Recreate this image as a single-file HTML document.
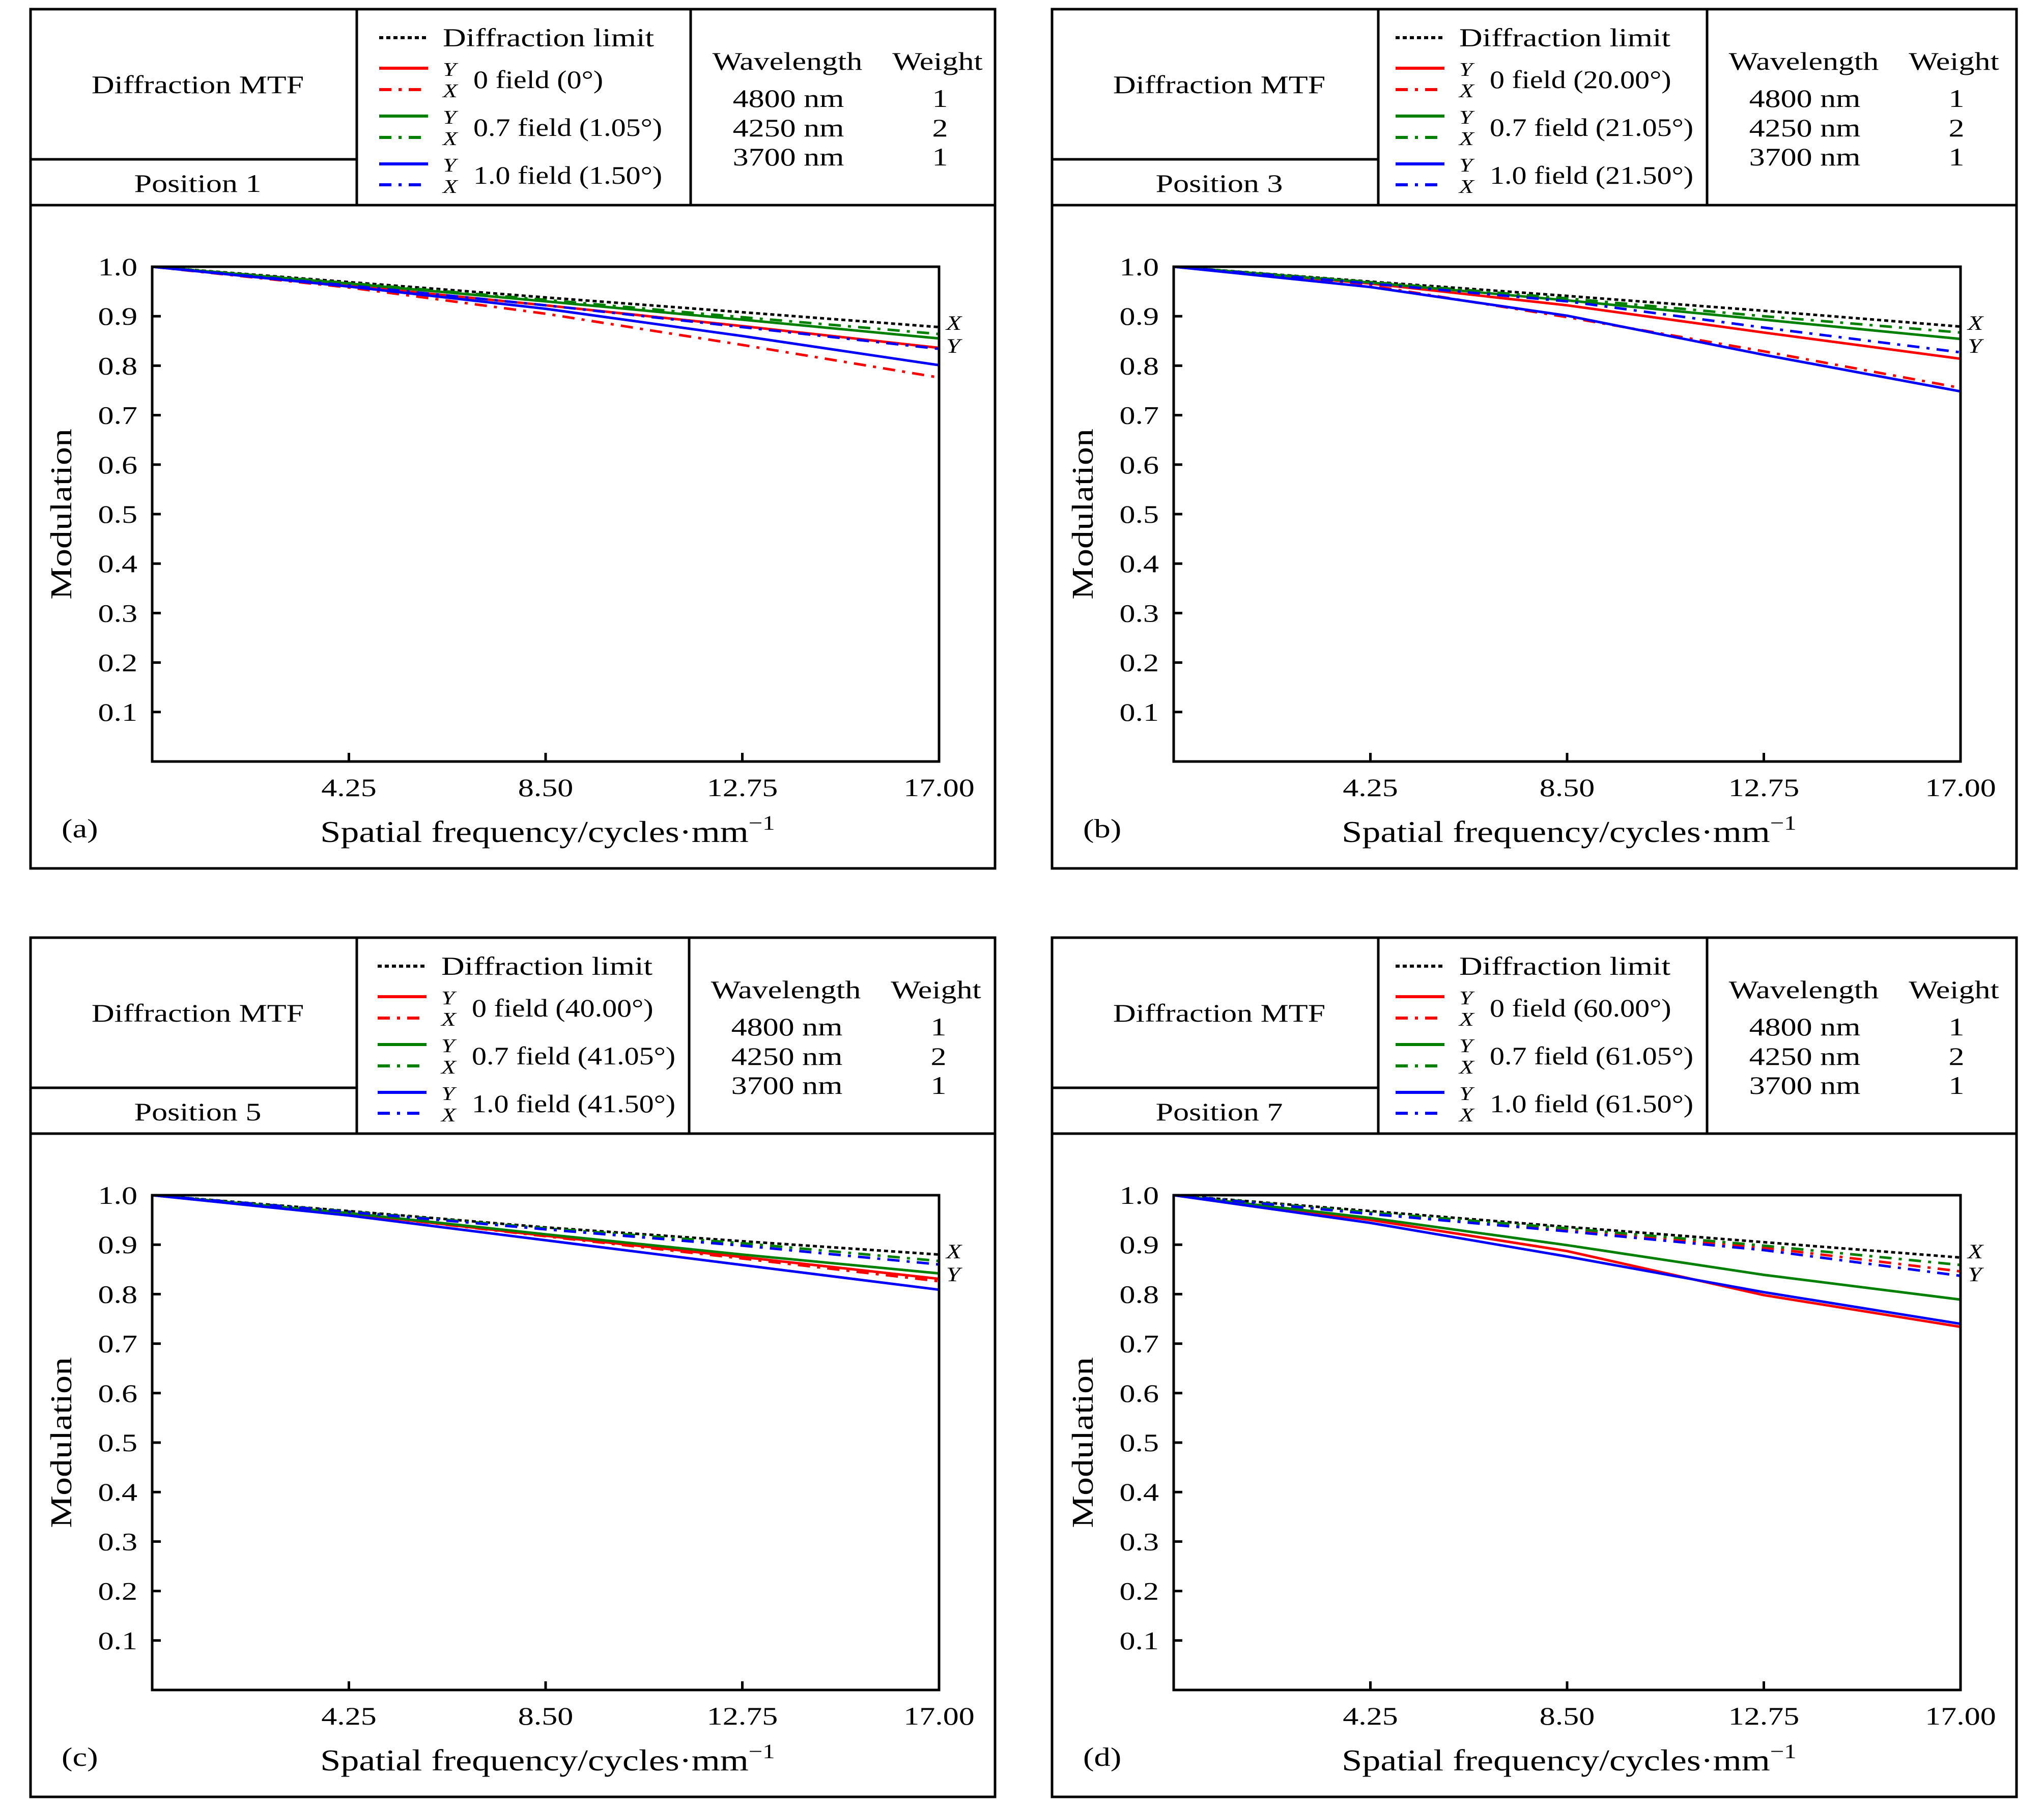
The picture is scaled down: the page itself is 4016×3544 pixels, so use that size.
<!DOCTYPE html>
<html><head><meta charset="utf-8">
<style>
html,body{margin:0;padding:0;background:#fff;}
svg{display:block;}
text{font-family:"Liberation Serif",serif;fill:#000;}
</style></head>
<body>
<svg id="fig" width="4016" height="3544" viewBox="0 0 4016 3544" xmlns="http://www.w3.org/2000/svg">
<rect x="0" y="0" width="4016" height="3544" fill="#fff"/>
</svg>
<script>
// ---- data ----
const freqs = [0, 4.25, 8.5, 12.75, 17];
const xTickLabels = ["4.25", "8.50", "12.75", "17.00"];
const xTickValues = [4.25, 8.5, 12.75, 17];
const yTickLabels = ["0.1","0.2","0.3","0.4","0.5","0.6","0.7","0.8","0.9","1.0"];
const yTickValues = [0.1,0.2,0.3,0.4,0.5,0.6,0.7,0.8,0.9,1.0];

const aDiff   = [1, .969, .938, .908, .878];
const aRedY   = [1, .962, .922, .880, .836];
const aRedX   = [1, .958, .905, .842, .776];
const aGreenY = [1, .966, .930, .893, .855];
const aGreenX = [1, .967, .933, .898, .864];
const aBlueY  = [1, .960, .915, .860, .801];
const aBlueX  = [1, .962, .922, .878, .834];

const bDiff   = [1, .970, .941, .911, .879];
const bRedY   = [1, .966, .922, .867, .814];
const bRedX   = [1, .962, .898, .829, .755];
const bGreenY = [1, .968, .932, .893, .854];
const bGreenX = [1, .969, .936, .900, .867];
const bBlueY  = [1, .959, .901, .822, .748];
const bBlueX  = [1, .966, .930, .877, .827];

const cDiff   = [1, .968, .935, .907, .880];
const cRedY   = [1, .963, .918, .875, .831];
const cRedX   = [1, .963, .917, .872, .826];
const cGreenY = [1, .964, .921, .880, .842];
const cGreenX = [1, .967, .933, .903, .867];
const cBlueY  = [1, .959, .909, .859, .809];
const cBlueX  = [1, .966, .931, .898, .860];

const dDiff   = [1, .968, .936, .905, .874];
const dRedY   = [1, .950, .887, .798, .734];
const dRedX   = [1, .963, .930, .894, .846];
const dGreenY = [1, .954, .899, .839, .789];
const dGreenX = [1, .965, .933, .898, .859];
const dBlueY  = [1, .944, .876, .804, .740];
const dBlueX  = [1, .962, .927, .889, .837];

const panelLetters = ["(a)", "(b)", "(c)", "(d)"];
const positionNames = ["Position 1", "Position 3", "Position 5", "Position 7"];
const field0 = ["0 field (0°)", "0 field (20.00°)", "0 field (40.00°)", "0 field (60.00°)"];
const field07 = ["0.7 field (1.05°)", "0.7 field (21.05°)", "0.7 field (41.05°)", "0.7 field (61.05°)"];
const field10 = ["1.0 field (1.50°)", "1.0 field (21.50°)", "1.0 field (41.50°)", "1.0 field (61.50°)"];
const wavelengths = ["4800 nm", "4250 nm", "3700 nm"];
const weights = ["1", "2", "1"];

const panelSeries = [
  [aDiff,aRedY,aRedX,aGreenY,aGreenX,aBlueY,aBlueX],
  [bDiff,bRedY,bRedX,bGreenY,bGreenX,bBlueY,bBlueX],
  [cDiff,cRedY,cRedX,cGreenY,cGreenX,cBlueY,cBlueX],
  [dDiff,dRedY,dRedX,dGreenY,dGreenX,dBlueY,dBlueX]
];
// ---- styles ----
const seriesNames = ["diffraction-limit","0-field-y","0-field-x","0.7-field-y","0.7-field-x","1.0-field-y","1.0-field-x"];
const seriesColors = ["#000","#ff0000","#ff0000","#008000","#008000","#0000ff","#0000ff"];
const seriesDash = ["8 6","","24 14 6 14","","24 14 6 14","","24 14 6 14"];

const NS = "http://www.w3.org/2000/svg";
const svg = document.getElementById("fig");
function mk(tag, attrs, parent, txt){
  const e = document.createElementNS(NS, tag);
  for (const k in attrs) e.setAttribute(k, attrs[k]);
  if (txt !== undefined) e.textContent = txt;
  (parent || svg).appendChild(e);
  return e;
}

const offsets = [[0,0],[2007,0],[0,1824],[2007,1824]];
const legendShift = [0,-10,-3,-10];

offsets.forEach(([ox,oy], p) => {
  const g = mk("g", {});
  
  
  const L = 60+ox, R = 1955+ox, T = 18+oy, B = 1706+oy;
  const ls = legendShift[p];
  const d1 = 701+ox, d2 = 1357+ox+ls;
  const line = (x1,y1,x2,y2,w) => mk("line",{x1,y1,x2,y2,stroke:"#000","stroke-width":w||5},g);
  const fr = mk("rect",{x:L,y:T,width:R-L,height:B-T,fill:"none",stroke:"#000","stroke-width":5},g);
  
  
  line(L,403+oy,R,403+oy);
  line(d1,T,d1,403+oy);
  line(d2,T,d2,403+oy);
  line(L,313+oy,d1,313+oy);
  let t = mk("text",{x:(L+d1)/2+8,y:183+oy,"text-anchor":"middle","font-size":50},g,"Diffraction MTF");
  
  
  t = mk("text",{x:(L+d1)/2+8,y:377+oy,"text-anchor":"middle","font-size":50},g,positionNames[p]);
  
  
  const lx = 745+ox+ls;
  const legendRows = [74,134,176,228,270,322,363];
  legendRows.forEach((ry,i) => {
    const ln = mk("line",{x1:lx,y1:ry+oy,x2:lx+96,y2:ry+oy,stroke:seriesColors[i],"stroke-width":6,"stroke-dasharray":seriesDash[i]},g);
    
    
  });
  t = mk("text",{x:870+ox+ls,y:91+oy,"font-size":51},g,"Diffraction limit");
  
  
  const fl = [field0[p], field07[p], field10[p]];
  [134,228,322].forEach((ry,i) => {
    mk("text",{x:870+ox+ls,y:ry+15+oy,"font-size":38,"font-style":"italic"},g,"Y");
    mk("text",{x:870+ox+ls,y:ry+57+oy,"font-size":38,"font-style":"italic"},g,"X");
    t = mk("text",{x:930+ox+ls,y:ry+39+oy,"font-size":50,"data-stretch":"1.16"},g,fl[i]);
    
    
  });
  t = mk("text",{x:d2+190,y:137+oy,"text-anchor":"middle","font-size":50},g,"Wavelength");
  
  
  t = mk("text",{x:d2+485,y:137+oy,"text-anchor":"middle","font-size":50},g,"Weight");
  
  
  [210,268,325].forEach((by,i) => {
    mk("text",{x:d2+192,y:by+oy,"text-anchor":"middle","font-size":50},g,wavelengths[i]);
    mk("text",{x:d2+490,y:by+oy,"text-anchor":"middle","font-size":50},g,weights[i]);
  });
  const pl = 299+ox, pr = 1845+ox, pt = 524+oy, pb = 1496+oy;
  const xs = v => pl + (v/17)*(pr-pl);
  const ys = v => pb - v*(pb-pt);
  panelSeries[p].forEach((arr,i) => {
    const pts = freqs.map((f,k) => xs(f).toFixed(1)+","+ys(arr[k]).toFixed(1)).join(" ");
    const pl_ = mk("polyline",{points:pts,fill:"none",stroke:seriesColors[i],"stroke-width":5,"stroke-dasharray":seriesDash[i],"stroke-linejoin":"round"},g);
    
    
  });
  const ax = mk("rect",{x:pl,y:pt,width:pr-pl,height:pb-pt,fill:"none",stroke:"#000","stroke-width":5},g);
  
  
  yTickValues.forEach((v,i) => {
    if (v < 1) line(pl, ys(v), pl+17, ys(v), 5);
    const tl = mk("text",{x:270+ox,y:ys(v)+17,"text-anchor":"end","font-size":50},g,yTickLabels[i]);
    
    
  });
  xTickValues.forEach((v,i) => {
    if (v < 17) line(xs(v), pb, xs(v), pb-17, 5);
    const tl = mk("text",{x:xs(v),y:1564+oy,"text-anchor":"middle","font-size":50},g,xTickLabels[i]);
    
    
  });
  t = mk("text",{x:pr+14,y:pt+124,"font-size":40,"font-style":"italic"},g,"X");
  
  
  t = mk("text",{x:pr+14,y:pt+169,"font-size":40,"font-style":"italic"},g,"Y");
  
  
  t = mk("text",{x:1076+ox,y:1654+oy,"text-anchor":"middle","font-size":59,"data-stretch":"1.22"},g);
  
  
  mk("tspan",{},t,"Spatial frequency/cycles·mm");
  mk("tspan",{dy:-24,"font-size":40},t,"−1");
  t = mk("text",{x:0,y:0,"text-anchor":"middle","font-size":59,"data-stretch":"1.22",transform:`translate(${140+ox},${1010+oy}) rotate(-90)`},g,"Modulation");
  
  
  t = mk("text",{x:121+ox,y:1645+oy,"font-size":52},g,panelLetters[p]);
  
  
});

// widen text to mimic the wider Computer Modern face of the reference
svg.querySelectorAll("text").forEach(el => {
  const f = parseFloat(el.getAttribute("data-stretch") || "1.24");
  const w = el.getComputedTextLength();
  if (w > 0) {
    el.setAttribute("textLength", (w * f).toFixed(1));
    el.setAttribute("lengthAdjust", "spacingAndGlyphs");
  }
});
</script>
</body></html>
